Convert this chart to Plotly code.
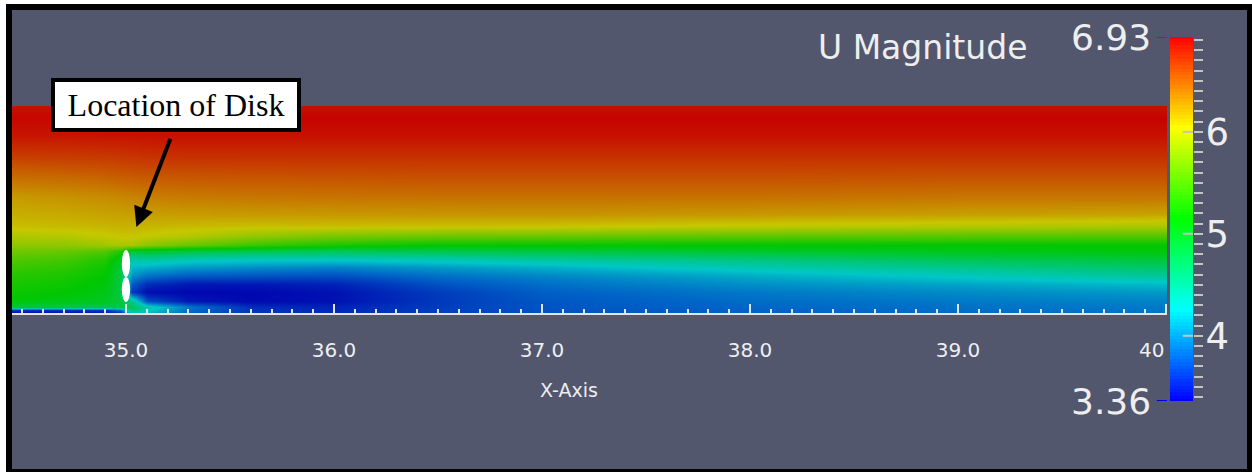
import numpy as np
import plotly.graph_objects as go

W, H = 1252, 472

# ---------------- data ----------------
x_stations = [34.45, 34.7, 34.9, 34.97, 35.03, 35.1, 35.3, 35.6, 36.0, 36.5, 37.0, 38.0, 39.0, 40.0]
y_levels = [0.00, 0.015, 0.03, 0.06, 0.10, 0.14, 0.18, 0.22, 0.26, 0.30, 0.33, 0.37, 0.42, 0.48, 0.56, 0.66, 0.76, 0.86, 0.94, 1.00]

# U magnitude profiles (bottom -> top) at each x station
u_34_45 = [3.40, 3.55, 4.90, 5.10, 5.20, 5.25, 5.30, 5.40, 5.50, 5.65, 5.78, 5.93, 6.08, 6.15, 6.24, 6.45, 6.66, 6.84, 6.90, 6.86]
u_34_70 = [3.40, 3.55, 4.85, 5.05, 5.15, 5.20, 5.25, 5.35, 5.45, 5.60, 5.78, 5.95, 6.10, 6.17, 6.27, 6.47, 6.67, 6.84, 6.90, 6.86]
u_34_90 = [3.45, 3.60, 4.80, 5.00, 5.05, 5.10, 5.15, 5.20, 5.30, 5.50, 5.85, 6.02, 6.12, 6.20, 6.30, 6.50, 6.68, 6.85, 6.91, 6.86]
u_34_97 = [3.55, 3.80, 4.80, 4.90, 4.85, 4.85, 4.85, 4.90, 5.00, 5.30, 5.90, 6.05, 6.13, 6.21, 6.32, 6.52, 6.69, 6.85, 6.91, 6.86]
u_35_03 = [4.30, 4.60, 4.80, 4.50, 3.60, 3.75, 4.00, 4.20, 4.40, 4.90, 5.90, 6.05, 6.13, 6.22, 6.34, 6.53, 6.70, 6.85, 6.91, 6.86]
u_35_10 = [4.20, 4.30, 4.40, 3.70, 3.40, 3.55, 3.85, 4.15, 4.45, 4.95, 5.75, 6.02, 6.12, 6.22, 6.36, 6.54, 6.71, 6.86, 6.91, 6.86]
u_35_30 = [3.80, 3.85, 3.90, 3.45, 3.37, 3.45, 3.75, 4.05, 4.35, 4.85, 5.60, 5.95, 6.10, 6.23, 6.38, 6.55, 6.72, 6.86, 6.92, 6.87]
u_35_60 = [3.60, 3.58, 3.55, 3.38, 3.37, 3.45, 3.72, 4.00, 4.30, 4.80, 5.40, 5.80, 6.08, 6.24, 6.40, 6.56, 6.72, 6.86, 6.92, 6.87]
u_36_00 = [3.55, 3.52, 3.50, 3.42, 3.42, 3.50, 3.70, 3.95, 4.30, 4.75, 5.25, 5.68, 6.08, 6.25, 6.41, 6.57, 6.72, 6.86, 6.92, 6.87]
u_36_50 = [3.64, 3.63, 3.62, 3.60, 3.62, 3.72, 3.85, 4.05, 4.35, 4.80, 5.15, 5.62, 6.07, 6.26, 6.42, 6.58, 6.72, 6.86, 6.92, 6.87]
u_37_00 = [3.72, 3.72, 3.73, 3.74, 3.78, 3.85, 3.95, 4.15, 4.45, 4.85, 5.15, 5.60, 6.06, 6.27, 6.42, 6.58, 6.72, 6.86, 6.92, 6.87]
u_38_00 = [3.80, 3.80, 3.81, 3.84, 3.90, 4.00, 4.12, 4.35, 4.60, 4.95, 5.14, 5.55, 6.00, 6.25, 6.42, 6.58, 6.72, 6.86, 6.92, 6.87]
u_39_00 = [3.84, 3.85, 3.86, 3.90, 3.98, 4.10, 4.28, 4.52, 4.78, 5.03, 5.14, 5.52, 5.95, 6.22, 6.40, 6.57, 6.72, 6.86, 6.92, 6.87]
u_40_00 = [3.88, 3.89, 3.90, 3.95, 4.05, 4.20, 4.45, 4.70, 4.90, 5.10, 5.15, 5.50, 5.90, 6.20, 6.40, 6.57, 6.72, 6.86, 6.92, 6.87]

profiles = [u_34_45, u_34_70, u_34_90, u_34_97, u_35_03, u_35_10, u_35_30,
            u_35_60, u_36_00, u_36_50, u_37_00, u_38_00, u_39_00, u_40_00]

u_min, u_max = 3.36, 6.93
bar_ticks = [4, 5, 6]
x_ticks = [35, 36, 37, 38, 39, 40]
x_tick_text = ["35.0", "36.0", "37.0", "38.0", "39.0", "40"]

disk_x = 35.0
disk_blades = [(0.174, 0.304), (0.053, 0.174)]

# ---------------- styling helpers ----------------
def px(x):
    return x / W

def py(y):
    return 1 - y / H

BG = "#52576E"
TXT = "#eeeeee"
FONT = "DejaVu Sans"

field_scale = [
    [0.000, "rgb(0,5,175)"],
    [0.125, "rgb(0,100,199)"],
    [0.250, "rgb(0,199,199)"],
    [0.375, "rgb(0,199,100)"],
    [0.500, "rgb(0,199,0)"],
    [0.625, "rgb(100,199,0)"],
    [0.750, "rgb(199,199,0)"],
    [0.875, "rgb(199,100,0)"],
    [1.000, "rgb(199,0,0)"],
]
bar_scale = [
    [0.00, "rgb(0,0,255)"],
    [0.25, "rgb(0,255,255)"],
    [0.50, "rgb(0,255,0)"],
    [0.75, "rgb(255,255,0)"],
    [1.00, "rgb(255,0,0)"],
]

z = np.array(profiles).T

fig = go.Figure()
fig.add_trace(go.Heatmap(
    x=x_stations, y=y_levels, z=z, zsmooth="best",
    colorscale=field_scale, zmin=u_min, zmax=u_max,
    showscale=False, hoverinfo="skip", xaxis="x", yaxis="y",
))

bar_levels = np.linspace(u_min, u_max, 110)
fig.add_trace(go.Heatmap(
    x=[0.5], y=bar_levels, z=[[v] for v in bar_levels],
    colorscale=bar_scale, zmin=u_min, zmax=u_max, zsmooth=False,
    showscale=False, hoverinfo="skip", xaxis="x2", yaxis="y2",
))

tick_col = "#e4e4e4"
bar_tick_col = "#c4c4c4"

fig.update_layout(
    width=W, height=H,
    margin=dict(l=0, r=0, t=0, b=0),
    paper_bgcolor="white",
    plot_bgcolor="rgba(0,0,0,0)",
    showlegend=False,
    xaxis=dict(
        domain=[px(12), px(1167)], range=[34.452, 40.005],
        showgrid=False, zeroline=False,
        showline=True, linecolor=tick_col, linewidth=2,
        ticks="inside", ticklen=9, tickwidth=2, tickcolor=tick_col,
        tickvals=x_ticks, ticktext=x_tick_text[:-1] + [""],
        tickfont=dict(family=FONT, size=20, color=TXT),
        ticklabelstandoff=18,
        minor=dict(ticks="inside", dtick=0.1, tick0=35, ticklen=4,
                   tickwidth=2, tickcolor=tick_col, showgrid=False),
        anchor="y",
    ),
    yaxis=dict(
        domain=[py(313), py(106)], range=[0, 1], visible=False, anchor="x",
    ),
    xaxis2=dict(
        domain=[px(1170), px(1193)], range=[0, 1], visible=False, anchor="y2",
    ),
    yaxis2=dict(
        domain=[py(401), py(37)], range=[u_min, u_max], anchor="x2",
        side="right", showgrid=False, zeroline=False, showline=False,
        ticks="outside", ticklen=9, tickwidth=2, tickcolor=bar_tick_col,
        tickvals=bar_ticks, ticktext=[str(t) for t in bar_ticks],
        tickfont=dict(family=FONT, size=37, color=TXT),
        ticklabelstandoff=-5,
        minor=dict(ticks="outside", dtick=0.1, tick0=0, ticklen=9,
                   tickwidth=2, tickcolor=bar_tick_col, showgrid=False),
    ),
)

shapes = [
    dict(type="rect", xref="paper", yref="paper", x0=px(6), x1=1, y0=0, y1=py(4),
         fillcolor="black", line=dict(width=0), layer="below"),
    dict(type="rect", xref="paper", yref="paper", x0=px(12), x1=px(1247), y0=py(469), y1=py(10),
         fillcolor=BG, line=dict(width=0), layer="below"),
]
for (b0, b1) in disk_blades:
    shapes.append(dict(type="circle", xref="x", yref="y",
                       x0=disk_x - 0.02, x1=disk_x + 0.02, y0=b0, y1=b1,
                       fillcolor="white", line=dict(width=0)))
for t in bar_ticks:
    shapes.append(dict(type="line", xref="x2 domain", yref="y2",
                       x0=0.55, x1=1.0, y0=t, y1=t,
                       line=dict(color=bar_tick_col, width=2)))
shapes.append(dict(type="line", xref="x2 domain", yref="y2", x0=-0.57, x1=-0.13,
                   y0=u_max, y1=u_max, line=dict(color="rgb(230,0,0)", width=2)))
shapes.append(dict(type="line", xref="x2 domain", yref="y2", x0=-0.57, x1=-0.13,
                   y0=u_min, y1=u_min, line=dict(color="rgb(0,0,230)", width=2)))
fig.update_layout(shapes=shapes)

annotations = [
    dict(text="U Magnitude", xref="paper", yref="paper", x=px(923), y=py(48),
         xanchor="center", yanchor="middle", showarrow=False,
         font=dict(family=FONT, size=33, color=TXT)),
    dict(text=f"{u_max:.2f}", xref="paper", yref="y2", x=px(1153), y=u_max,
         xanchor="right", yanchor="middle", showarrow=False,
         font=dict(family=FONT, size=36, color=TXT)),
    dict(text=f"{u_min:.2f}", xref="paper", yref="y2", x=px(1153), y=u_min,
         xanchor="right", yanchor="middle", showarrow=False,
         font=dict(family=FONT, size=36, color=TXT)),
    dict(text=x_tick_text[-1], xref="x", yref="paper", x=x_ticks[-1], y=py(350),
         xanchor="right", yanchor="middle", showarrow=False,
         font=dict(family=FONT, size=20, color=TXT)),
    dict(text="X-Axis", xref="paper", yref="paper", x=px(569), y=py(390),
         xanchor="center", yanchor="middle", showarrow=False,
         font=dict(family=FONT, size=19, color=TXT)),
    dict(text=" ", xref="x", yref="y", x=35.05, y=0.415,
         showarrow=True, ax=37, ay=-96, axref="pixel", ayref="pixel",
         arrowhead=2, arrowsize=1, arrowwidth=4, arrowcolor="black", standoff=0),
    dict(text="Location of Disk", xref="paper", yref="paper", x=px(176), y=py(104.5),
         xanchor="center", yanchor="middle", showarrow=False,
         width=236, height=40, borderpad=3, borderwidth=4,
         bordercolor="black", bgcolor="white", xshift=0,
         font=dict(family="Liberation Serif", size=32, color="black")),
]
fig.update_layout(annotations=annotations)

fig.write_html("out.html")
